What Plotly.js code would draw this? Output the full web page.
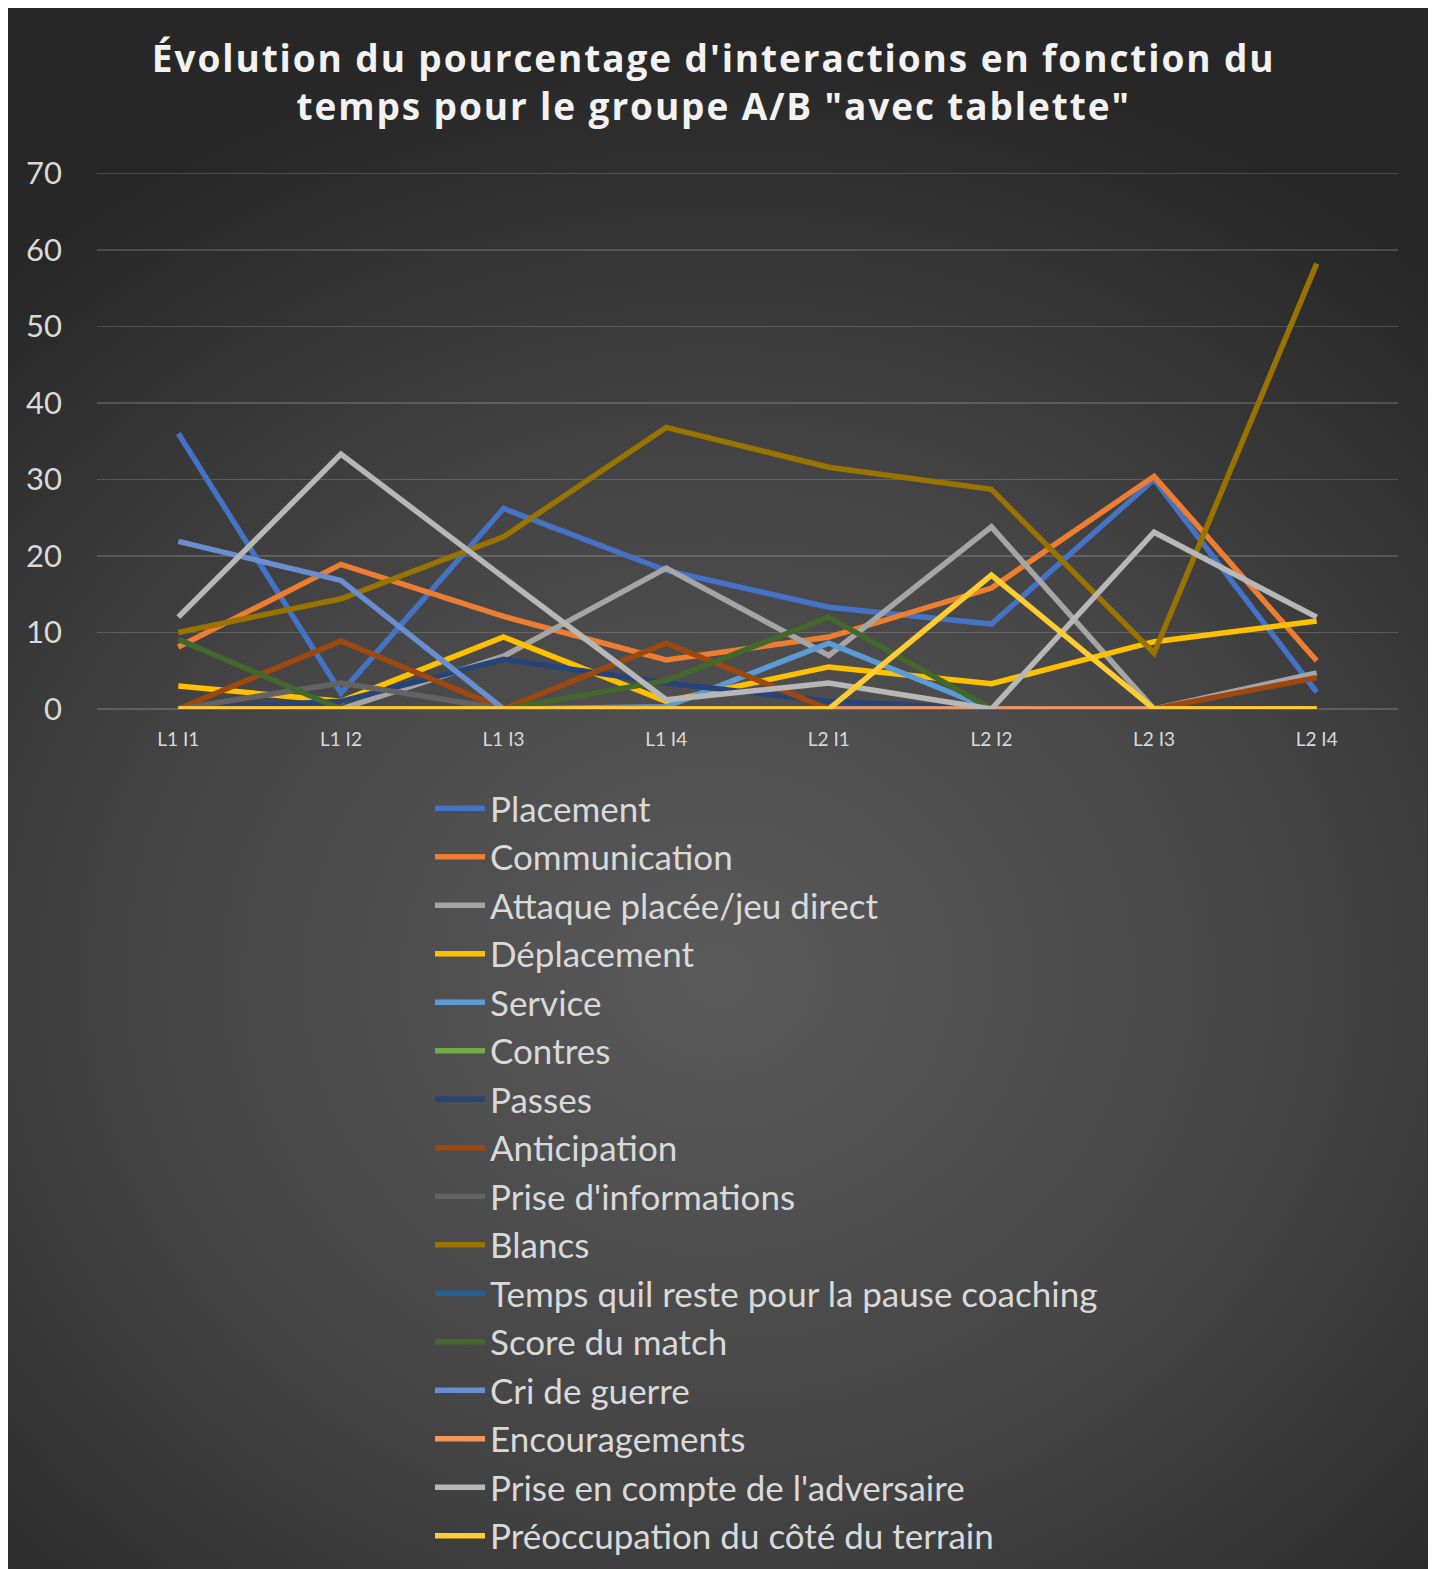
<!DOCTYPE html>
<html>
<head>
<meta charset="utf-8">
<script src="https://cdn.plot.ly/plotly-3.0.1.min.js"></script>
<style>
  html, body { margin: 0; padding: 0; background: #ffffff; }
  #bg { position: absolute; left: 8px; top: 8px; width: 1420px; height: 1561px;
        background: radial-gradient(ellipse 75% 60% at 50% 62%, #5a5a5a 0%, #444444 55%, #272727 100%); }
  #chart { position: absolute; left: 0; top: 0; width: 1436px; height: 1569px; }
  #chart .gtitle { letter-spacing: 1.9px; }
</style>
</head>
<body>
<div id="bg"></div>
<div id="chart"></div>
<script>
const categories = ["L1 I1", "L1 I2", "L1 I3", "L1 I4", "L2 I1", "L2 I2", "L2 I3", "L2 I4"];

const placement        = [36.0, 2.1, 26.2, 18.1, 13.3, 11.1, 30.0, 2.2];
const communication    = [8.1, 18.9, 12.1, 6.4, 9.4, 15.8, 30.4, 6.3];
const attaquePlacee    = [0, 0, 6.9, 18.4, 7.0, 23.8, 0, 4.7];
const deplacement      = [3.0, 1.0, 9.4, 1.0, 5.5, 3.3, 8.8, 11.5];
const service          = [0, 0, 0, 0.3, 8.6, 0, 0, 0];
const contres          = [0, 0, 0, 0, 0, 0, 0, 0];
const passes           = [0, 1.0, 6.5, 3.4, 1.0, 0, 0, 0];
const anticipation     = [0, 8.9, 0, 8.6, 0, 0, 0, 4.1];
const priseInfos       = [0, 3.4, 0, 0, 0, 0, 0, 0];
const blancs           = [10.0, 14.4, 22.5, 36.8, 31.6, 28.7, 7.3, 58.2];
const tempsPause       = [0, 0, 0, 0, 0, 0, 0, 0];
const scoreMatch       = [9.1, 0, 0, 3.7, 12.0, 0, 0, 0];
const criDeGuerre      = [21.9, 16.8, 0, 0, 0, 0, 0, 0];
const encouragements   = [0, 0, 0, 0, 0, 0, 0, 0];
const priseAdversaire  = [12.0, 33.3, 17.2, 1.2, 3.4, 0, 23.1, 12.0];
const preoccupation    = [0, 0, 0, 0, 0, 17.5, 0, 0];

const seriesNames = [
  "Placement", "Communication", "Attaque placée/jeu direct", "Déplacement",
  "Service", "Contres", "Passes", "Anticipation", "Prise d'informations",
  "Blancs", "Temps quil reste pour la pause coaching", "Score du match",
  "Cri de guerre", "Encouragements", "Prise en compte de l'adversaire",
  "Préoccupation du côté du terrain"
];
const seriesValues = [
  placement, communication, attaquePlacee, deplacement, service, contres,
  passes, anticipation, priseInfos, blancs, tempsPause, scoreMatch,
  criDeGuerre, encouragements, priseAdversaire, preoccupation
];
const seriesColors = [
  "#4472C4", "#ED7D31", "#A5A5A5", "#FFC000", "#5B9BD5", "#70AD47",
  "#264478", "#9E480E", "#636363", "#997300", "#255E91", "#43682B",
  "#698ED0", "#F1975A", "#B7B7B7", "#FFCD33"
];

const traces = seriesNames.map((name, i) => ({
  type: "scatter",
  mode: "lines",
  name: name,
  x: categories,
  y: seriesValues[i],
  legendgroup: "g" + i,
  line: { color: seriesColors[i], width: 5.5 },
  hoverinfo: "x+y+name"
}));

const W = 1436, H = 1569;
const plotL = 97, plotR = 1398, plotT = 171, plotB = 709;

const layout = {
  width: W,
  height: H,
  paper_bgcolor: "rgba(0,0,0,0)",
  plot_bgcolor: "rgba(0,0,0,0)",
  margin: { l: plotL, r: W - plotR, t: plotT, b: H - plotB, pad: 0, autoexpand: false },
  title: {
    text: "Évolution du pourcentage d'interactions en fonction du<br>temps pour le groupe A/B \"avec tablette\"",
    font: { family: "Open Sans, sans-serif", size: 37, color: "#f2f2f2", weight: 700 },
    x: 0.497,
    xanchor: "center",
    y: 1 - 72 / H,
    yanchor: "middle"
  },
  xaxis: {
    type: "category",
    range: [-0.5, 7.5],
    showgrid: false,
    zeroline: false,
    showline: false,
    ticks: "",
    tickfont: { family: "Lato, sans-serif", size: 19, color: "#d9d9d9" },
    ticklabelstandoff: 17,
    fixedrange: true
  },
  yaxis: {
    range: [0, 70.3],
    tickvals: [0, 10, 20, 30, 40, 50, 60, 70],
    showgrid: true,
    gridcolor: "rgba(255,255,255,0.16)",
    gridwidth: 1.5,
    zeroline: true,
    zerolinecolor: "rgba(255,255,255,0.16)",
    zerolinewidth: 1.5,
    showline: false,
    ticks: "",
    tickfont: { family: "Lato, sans-serif", size: 31, color: "#d9d9d9" },
    ticklabelstandoff: 34,
    fixedrange: true
  },
  showlegend: true,
  legend: {
    orientation: "v",
    x: (430 - plotL) / (plotR - plotL),
    xanchor: "left",
    y: (plotB - 779) / (plotB - plotT),
    yanchor: "top",
    bgcolor: "rgba(0,0,0,0)",
    font: { family: "Lato, sans-serif", size: 35, color: "#d9d9d9" },
    tracegroupgap: 8,
    itemwidth: 50,
    traceorder: "normal"
  },
  hovermode: "closest"
};

Plotly.newPlot("chart", traces, layout, { displayModeBar: false, staticPlot: true });
</script>
</body>
</html>
